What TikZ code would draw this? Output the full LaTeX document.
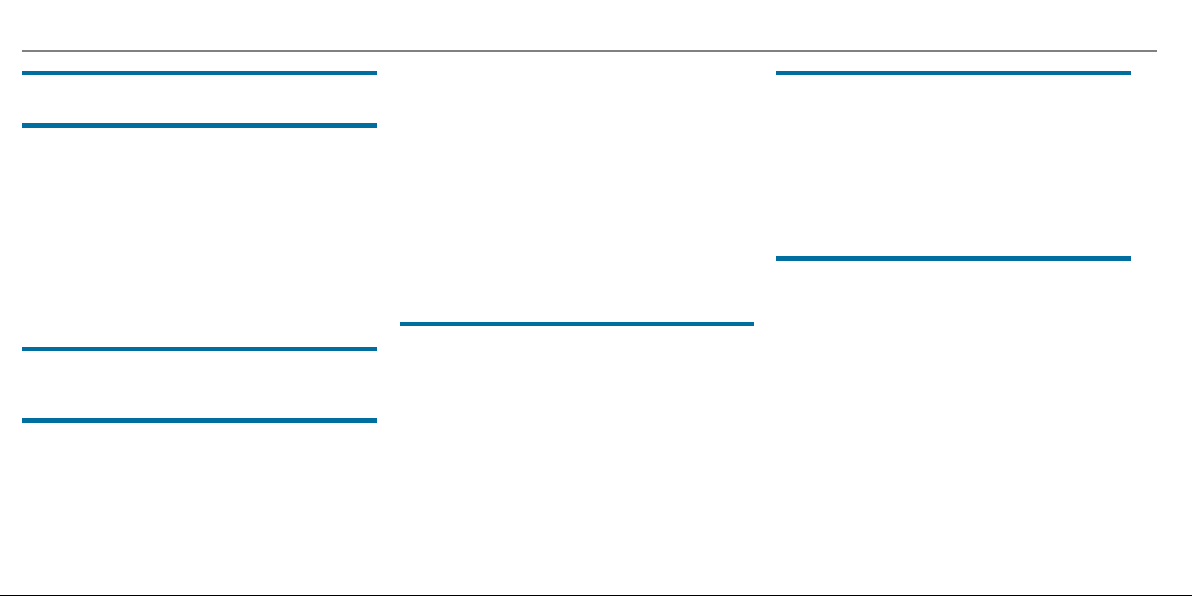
\documentclass[tikz,border=0pt]{standalone}
\definecolor{barblue}{RGB}{0,111,160}
\definecolor{rulegray}{RGB}{128,128,128}
\tikzset{
    seccion/.style={barblue,line width=4.5pt},
    regla/.style={rulegray,line width=1.6pt}
}
\begin{document}
\begin{tikzpicture}[x=1pt,y=-1pt]
    \useasboundingbox (0,0) rectangle (1192,596);
    %Linea superior
    \draw[regla] (22,50.8) -- (1157,50.8);

    %Barras columna izquierda
    \foreach \y in {73,125.5,349,420.5}{
        \draw[seccion] (22,\y) -- (377,\y);
    }
    %Barra columna central
    \draw[seccion] (399.5,324) -- (754,324);
    %Barras columna derecha
    \foreach \y in {73,258.5}{
        \draw[seccion] (776,\y) -- (1131,\y);
    }

    %Borde inferior
    \draw[black,line width=1pt] (0,595.5) -- (1192,595.5);
\end{tikzpicture}
\end{document}
